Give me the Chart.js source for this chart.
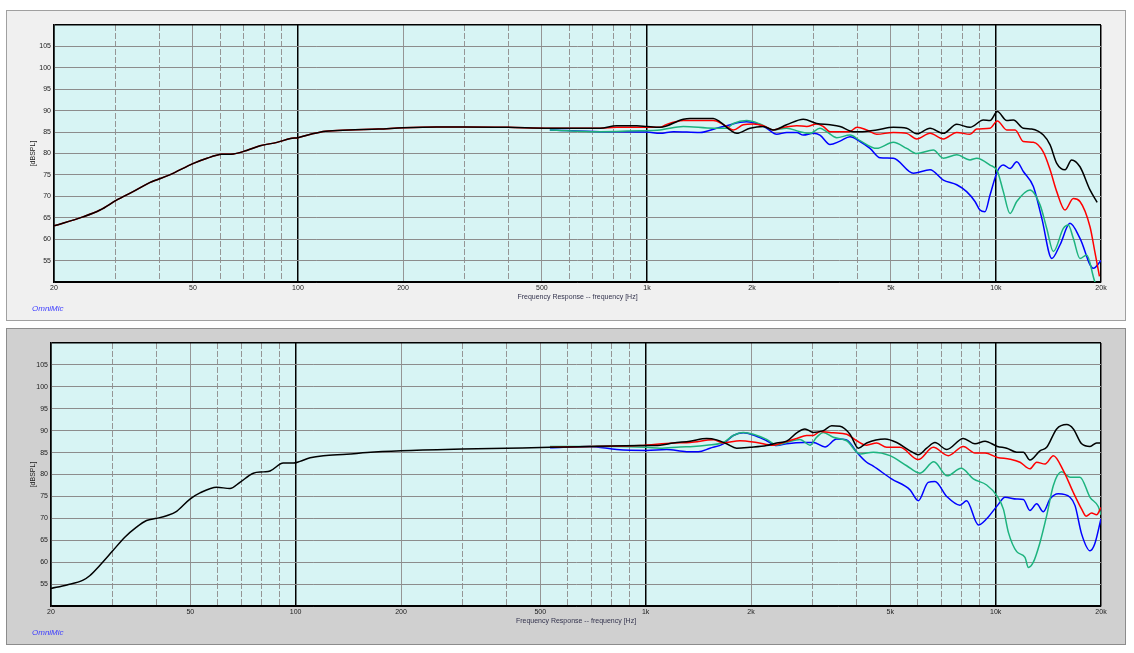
<!DOCTYPE html>
<html>
<head>
<meta charset="utf-8">
<script src="https://cdn.jsdelivr.net/npm/chart.js@4.4.1/dist/chart.umd.min.js"></script>
<style>
  html, body { margin: 0; padding: 0; background: #ffffff; }
  body { width: 1134px; height: 653px; position: relative; overflow: hidden; }
  .panel { position: absolute; left: 6px; width: 1118px; border: 1px solid #a0a0a0; }
  .panel canvas { position: absolute; left: 0; top: 0; }
  .brand { position: absolute; left: 25px; font: italic 8px "Liberation Sans", Arial, sans-serif; color: #3c3cff; }
</style>
</head>
<body>
<div class="panel" style="top:10px; height:309px; background:#f0f0f0;">
  <canvas id="chartTop" width="1118" height="309"></canvas>
  <div class="brand" style="top:293px;">OmniMic</div>
</div>
<div class="panel" style="top:328px; height:315px; background:#d0d0d0; border-color:#8c8c8c;">
  <canvas id="chartBottom" width="1118" height="315"></canvas>
  <div class="brand" style="top:299px;">OmniMic</div>
</div>
<script>
// axis ticks
const freqTicks = [20, 30, 40, 50, 60, 70, 80, 90, 100, 200, 300, 400, 500, 600, 700, 800, 900,
  1000, 2000, 3000, 4000, 5000, 6000, 7000, 8000, 9000, 10000, 20000];
const freqTickLabels = ['20', '', '', '50', '', '', '', '', '100', '200', '', '', '500', '', '', '', '',
  '1k', '2k', '', '', '5k', '', '', '', '', '10k', '20k'];
const blackFreqLines = [20, 100, 1000, 10000, 20000];
const solidFreqLines = [50, 200, 500, 2000, 5000];

// top plot: black and red share the low end
const topCommonHz = [20, 24.2, 27.1, 30.2, 33.7, 37.6, 42.9, 50.2, 54.9, 60.5,
  65.3, 71.3, 77.9, 87.1, 95.2, 100, 110, 120, 140, 170,
  200, 250, 300, 400, 527, 734];
const topCommonDb = [63.1, 65.2, 66.8, 69.1, 71.1, 73.2, 75.0, 77.7, 78.9, 79.8,
  79.9, 80.7, 81.8, 82.6, 83.5, 83.7, 84.6, 85.2, 85.5, 85.7,
  86.0, 86.2, 86.2, 86.1, 85.9, 85.9];

const topBlackHz = [818, 935, 1000, 1090, 1271, 1328, 1549, 1619, 1730, 1808,
  1974, 2156, 2302, 2514, 2806, 3065, 3346, 3575, 3903, 4079,
  4553, 5082, 5550, 5929, 6473, 7067, 7720, 8426, 9201, 9617,
  10093, 10735, 11220, 11981, 12660, 13674, 14294, 14935, 15775, 16480,
  17410, 18600, 19500];
const topBlackDb = [86.5, 86.5, 86.3, 86.1, 88.0, 88.2, 88.2, 87.4, 85.5, 84.7,
  85.9, 86.3, 85.5, 86.7, 88.0, 87.0, 86.7, 86.3, 85.1, 85.1,
  85.5, 86.1, 85.9, 84.6, 85.9, 84.7, 86.8, 86.1, 87.8, 87.7,
  89.8, 87.7, 87.8, 85.9, 85.7, 84.3, 82.0, 77.7, 76.2, 78.5,
  76.9, 71.5, 68.6];

const topRedHz = [818, 935, 1000, 1090, 1139, 1271, 1549, 1583, 1692, 1768,
  1888, 2017, 2156, 2302, 2459, 2687, 2869, 3065, 3201, 3346,
  3800, 4000, 4263, 4553, 5082, 5550, 5929, 6473, 7067, 7720,
  8426, 8806, 9617, 10093, 10735, 11345, 11981, 12800, 13674, 14294,
  14935, 15775, 16660, 17410, 18600, 19200, 19800];
const topRedDb = [86.1, 86.1, 86.1, 86.1, 86.8, 87.7, 87.7, 87.6, 86.3, 85.5,
  86.7, 86.9, 86.5, 85.5, 86.1, 86.5, 86.3, 86.9, 86.3, 85.1,
  85.1, 86.1, 85.5, 84.5, 84.9, 84.7, 83.4, 84.7, 83.4, 84.9,
  84.5, 85.7, 85.9, 87.6, 85.5, 85.5, 82.8, 82.6, 80.3, 76.2,
  71.1, 66.8, 69.5, 68.8, 62.9, 57.1, 51.3];

const topGreenHz = [527, 734, 955, 1090, 1271, 1549, 1690, 1768, 1930, 2109,
  2302, 2514, 2745, 2932, 3131, 3272, 3497, 3818, 4079, 4553,
  5082, 5550, 5929, 6617, 7067, 7720, 8426, 8806, 9617, 10093,
  10500, 10975, 11470, 12522, 13378, 13981, 14609, 15601, 16120, 16660,
  17410, 18200, 19200, 20000];
const topGreenDb = [85.5, 85.1, 85.3, 85.5, 86.3, 85.9, 85.9, 87.0, 87.7, 86.9,
  85.5, 85.9, 85.1, 84.7, 85.9, 85.1, 83.7, 84.3, 83.0, 81.2,
  82.6, 81.2, 80.0, 80.8, 78.9, 79.7, 78.5, 78.9, 77.3, 75.9,
  71.1, 66.0, 68.8, 71.5, 68.0, 62.5, 57.1, 62.5, 63.3, 60.2,
  55.5, 56.3, 50.1, 48.0];

const topBlueHz = [527, 734, 1000, 1090, 1191, 1419, 1583, 1692, 1848, 1930,
  2063, 2204, 2354, 2514, 2687, 2806, 2997, 3131, 3346, 3575,
  3818, 4079, 4357, 4655, 5082, 5799, 6473, 7067, 7720, 8242,
  8709, 9000, 9302, 9617, 10093, 10500, 10975, 11470, 11981, 12800,
  13530, 14455, 15265, 16300, 17410, 19020, 20000];
const topBlueDb = [85.5, 85.1, 85.0, 84.7, 85.1, 84.9, 85.9, 86.5, 87.3, 87.4,
  87.0, 85.9, 84.5, 84.9, 84.9, 84.3, 84.7, 84.3, 82.1, 82.9,
  83.9, 82.8, 81.2, 79.0, 78.9, 75.4, 76.2, 73.8, 72.7, 71.1,
  68.8, 66.8, 66.4, 70.3, 75.8, 77.3, 76.5, 78.1, 75.8, 72.3,
  64.9, 55.5, 58.7, 63.7, 60.2, 53.2, 55.0];

// bottom plot
const bottomBlackHz = [20, 22.2, 24.7, 25.8, 27.6, 30.1, 32.5, 35.1, 37.5, 40.1,
  42.8, 45.7, 49.9, 53.3, 59.5, 64.9, 69.3, 75.7, 80.9, 84.5,
  92.2, 98.5, 102.9, 110, 120, 140, 160, 200, 300, 400,
  533, 700, 964, 1099, 1200, 1339, 1494, 1596, 1704, 1820,
  1987, 2217, 2368, 2529, 2701, 2852, 3014, 3219, 3401, 3592,
  3836, 4053, 4280, 4829, 5215, 5694, 6012, 6354, 6708, 7247,
  8083, 8730, 9325, 10114, 10756, 11487, 12001, 12534, 13389, 13990,
  14942, 15960, 16672, 17610, 18607, 19431, 20000];
const bottomBlackDb = [54.0, 54.8, 55.9, 56.9, 59.3, 62.7, 65.7, 68.0, 69.5, 70.0,
  70.6, 71.6, 74.4, 75.8, 77.1, 76.8, 78.2, 80.3, 80.6, 80.8,
  82.6, 82.6, 83.0, 83.8, 84.3, 84.6, 85.0, 85.4, 85.8, 86.0,
  86.2, 86.4, 86.6, 86.7, 87.2, 87.6, 88.2, 87.9, 87.0, 86.0,
  86.2, 86.6, 87.2, 87.6, 89.5, 90.4, 89.6, 90.0, 91.1, 91.0,
  89.2, 86.0, 87.2, 88.1, 87.3, 85.4, 84.5, 86.0, 87.3, 85.7,
  88.2, 87.0, 87.6, 86.4, 86.0, 85.1, 85.1, 83.3, 85.4, 86.2,
  90.4, 91.4, 90.4, 87.0, 86.4, 87.2, 87.2];

const bottomRedHz = [533, 700, 964, 1200, 1339, 1561, 1667, 1860, 2076, 2316,
  2475, 2701, 2884, 3014, 3149, 3438, 3753, 4009, 4280, 4571,
  4882, 5330, 6012, 6634, 7325, 8083, 8730, 9325, 10114, 10990,
  11740, 12534, 13097, 13840, 14618, 15614, 16672, 17610, 18130, 18800,
  19431, 20000];
const bottomRedDb = [86.2, 86.4, 86.6, 87.2, 87.3, 87.9, 87.2, 87.7, 87.3, 86.7,
  87.3, 88.2, 88.9, 88.9, 89.8, 89.5, 89.2, 87.7, 86.7, 87.2,
  86.2, 86.2, 83.4, 86.2, 84.3, 86.4, 84.9, 84.9, 83.9, 83.5,
  82.8, 81.3, 82.8, 82.4, 84.3, 80.9, 75.9, 72.1, 70.5, 71.2,
  70.8, 72.5];

const bottomGreenHz = [533, 827, 1007, 1099, 1254, 1368, 1494, 1667, 1780, 1901,
  2031, 2217, 2368, 2529, 2761, 2948, 3080, 3219, 3438, 3753,
  4098, 4471, 4990, 5570, 6079, 6660, 7270, 7966, 8636, 9426,
  10114, 10523, 10875, 11487, 12130, 12400, 12814, 13389, 13990, 14618,
  15430, 16310, 17418, 18607, 19640, 20000];
const bottomGreenDb = [86.4, 86.4, 86.2, 86.0, 86.3, 86.4, 86.7, 87.3, 88.9, 89.6,
  89.2, 88.0, 86.7, 87.3, 88.0, 86.7, 88.5, 89.6, 88.5, 87.7,
  84.7, 85.1, 84.3, 82.0, 80.3, 82.9, 79.7, 81.4, 79.0, 77.6,
  75.0, 72.1, 66.8, 62.4, 61.1, 58.8, 60.0, 64.5, 70.6, 77.5,
  80.6, 79.4, 79.4, 74.8, 72.7, 70.8];

const bottomBlueHz = [533, 693, 827, 1007, 1148, 1310, 1414, 1527, 1667, 1780,
  1901, 2031, 2217, 2368, 2529, 2822, 3014, 3254, 3514, 3753,
  4009, 4280, 4471, 5041, 5694, 6012, 6416, 6708, 7247, 7907,
  8262, 8924, 9426, 10114, 10640, 11487, 12001, 12534, 13097, 13687,
  14302, 15100, 16310, 16860, 17610, 18607, 19200, 20000];
const bottomBlueDb = [86.1, 86.4, 85.7, 85.5, 85.7, 85.2, 85.2, 86.0, 87.0, 88.9,
  89.5, 89.0, 87.7, 86.6, 87.0, 87.3, 87.3, 86.3, 88.1, 87.9,
  85.1, 82.8, 81.9, 79.0, 76.5, 74.0, 78.2, 78.4, 75.0, 73.0,
  74.0, 68.5, 69.9, 72.9, 74.8, 74.4, 74.3, 71.8, 73.3, 71.5,
  74.4, 75.6, 74.8, 72.9, 66.4, 62.6, 64.2, 69.9];

const FONT = '"Liberation Sans", Arial, sans-serif';

// light cyan plot area
const plotBackground = {
  id: 'plotBackground',
  beforeDraw(chart) {
    const { ctx, chartArea: a } = chart;
    ctx.save();
    ctx.fillStyle = '#d7f4f4';
    ctx.fillRect(a.left, a.top, a.width, a.height);
    ctx.restore();
  }
};

function toPoints(hz, db) {
  return hz.map((f, i) => ({ x: f, y: db[i] }));
}

function series(color, hz, db) {
  return {
    data: toPoints(hz, db),
    borderColor: color,
    borderWidth: 1.5,
    pointRadius: 0,
    cubicInterpolationMode: 'monotone',
    clip: 0
  };
}

function buildOptions(yWidth) {
  return {
    responsive: false,
    animation: false,
    layout: { padding: { left: 0, right: 24, top: 14, bottom: 0 } },
    plugins: { legend: { display: false }, tooltip: { enabled: false } },
    scales: {
      x: {
        type: 'logarithmic',
        min: 20,
        max: 20000,
        afterBuildTicks: s => { s.ticks = freqTicks.map(v => ({ value: v })); },
        afterFit: s => { s.height = 38; },
        ticks: {
          autoSkip: false,
          maxRotation: 0,
          padding: 2,
          color: '#222',
          font: { family: FONT, size: 7 },
          callback: v => freqTickLabels[freqTicks.indexOf(v)]
        },
        grid: {
          drawTicks: false,
          color: c => c.tick && blackFreqLines.includes(c.tick.value) ? '#000' : '#959595',
          lineWidth: c => c.tick && blackFreqLines.includes(c.tick.value) ? 1.5 : 1
        },
        border: {
          color: '#000',
          width: 1.5,
          dash: c => c.tick && !blackFreqLines.includes(c.tick.value) && !solidFreqLines.includes(c.tick.value) ? [6, 2] : []
        },
        title: {
          display: true,
          text: 'Frequency Response -- frequency [Hz]',
          color: '#33334d',
          font: { family: FONT, size: 7 },
          padding: { top: 0, bottom: 19 }
        }
      },
      y: {
        min: 50,
        max: 110,
        afterFit: s => { s.width = yWidth; },
        ticks: {
          stepSize: 5,
          padding: 3,
          color: '#222',
          font: { family: FONT, size: 7 },
          callback: v => (v === 50 || v === 110) ? '' : v
        },
        grid: {
          drawTicks: false,
          color: c => c.tick && (c.tick.value === 50 || c.tick.value === 110) ? '#000' : '#8c8c8c',
          lineWidth: c => c.tick && c.tick.value === 110 ? 1.5 : 1
        },
        border: { color: '#000', width: 1.5 },
        title: {
          display: true,
          text: '[dBSPL]',
          color: '#222',
          font: { family: FONT, size: 7 },
          padding: { top: 22, bottom: 0 }
        }
      }
    }
  };
}

new Chart(document.getElementById('chartTop'), {
  type: 'line',
  data: {
    datasets: [
      series('#000000', topCommonHz.concat(topBlackHz), topCommonDb.concat(topBlackDb)),
      series('#ff0000', topCommonHz.concat(topRedHz), topCommonDb.concat(topRedDb)),
      series('#1db37e', topGreenHz, topGreenDb),
      series('#0000ff', topBlueHz, topBlueDb)
    ]
  },
  options: buildOptions(47),
  plugins: [plotBackground]
});

new Chart(document.getElementById('chartBottom'), {
  type: 'line',
  data: {
    datasets: [
      series('#000000', bottomBlackHz, bottomBlackDb),
      series('#ff0000', bottomRedHz, bottomRedDb),
      series('#1db37e', bottomGreenHz, bottomGreenDb),
      series('#0000ff', bottomBlueHz, bottomBlueDb)
    ]
  },
  options: buildOptions(44),
  plugins: [plotBackground]
});
</script>
</body>
</html>
